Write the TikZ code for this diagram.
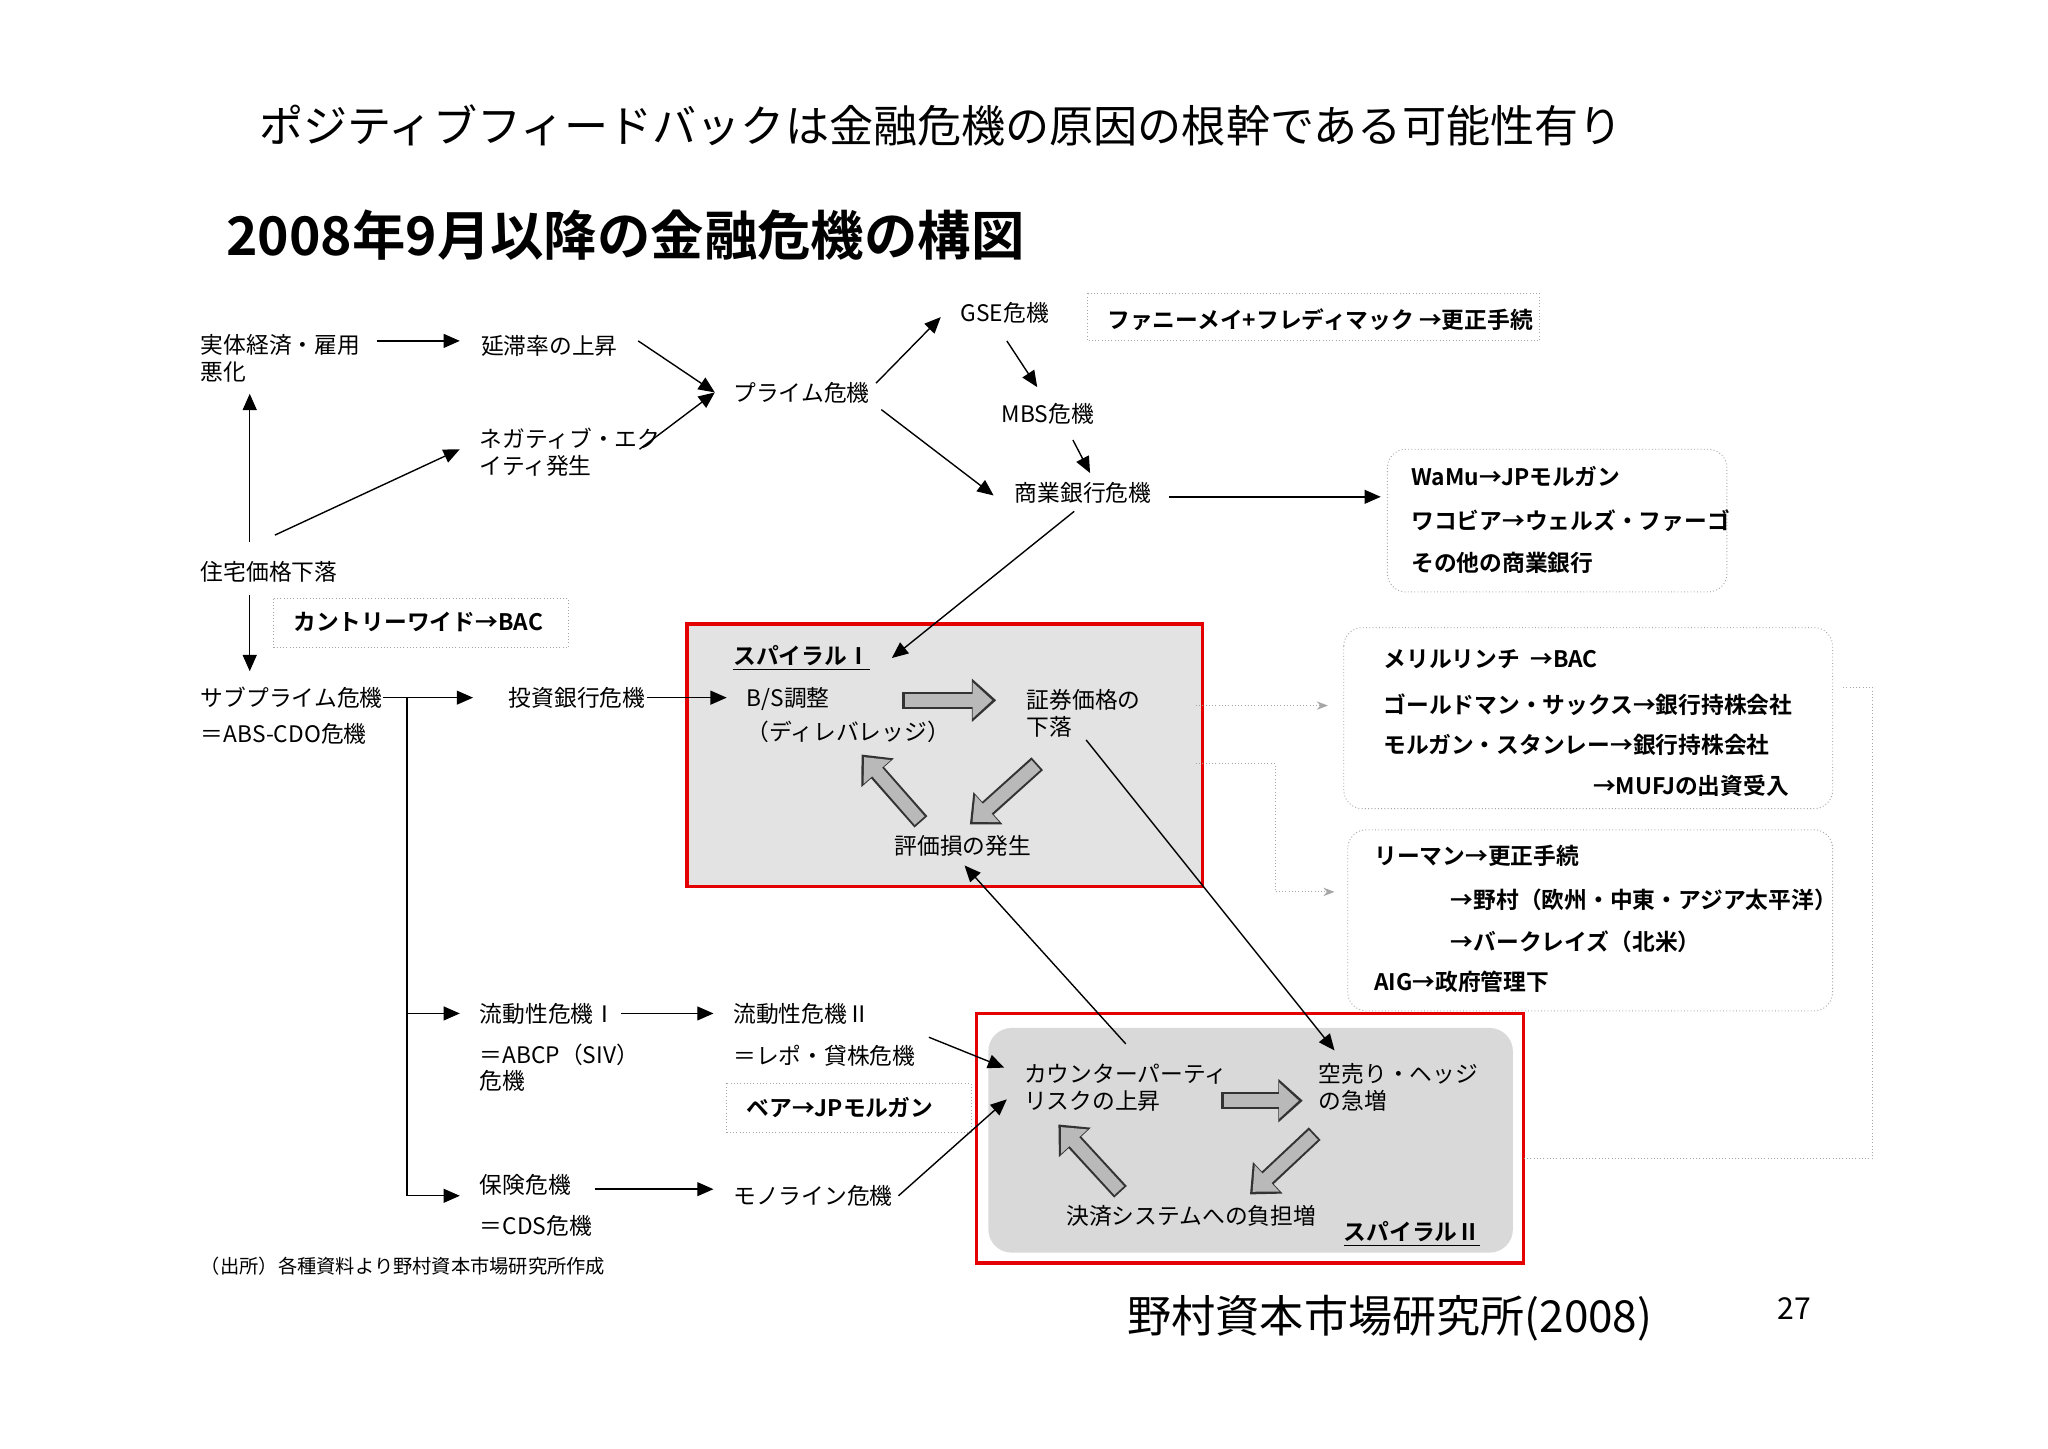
\documentclass[tikz,border=0pt]{standalone}
\usepackage{fontspec}
\setmainfont{Noto Sans CJK JP}
\newfontfamily\jpb{Noto Sans CJK JP Bold}
\usetikzlibrary{arrows.meta}
\begin{document}
\begin{tikzpicture}[x=0.02cm,y=-0.02cm,
 t/.style={font=\fontsize{9.8}{11.5}\selectfont,inner sep=1pt,anchor=west},
 tb/.style={font=\jpb\fontsize{9.8}{11.5}\selectfont,inner sep=1pt,anchor=west},
 ar/.style={-{Triangle[length=7pt,width=6pt]},line width=0.6pt},
 bigo/.style={line width=7.4pt,draw=black!80,-{Triangle[length=10.5pt,width=18pt]}},
 big/.style={line width=5.6pt,draw=gray!55,-{Triangle[length=8.5pt,width=15pt]}},
 dbox/.style={draw=gray!70,densely dotted,rounded corners=8pt},
 red/.style={draw=red!90!black,line width=1.6pt}]
\useasboundingbox (0,0) rectangle (1550,1096);
\fill[white] (0,0) rectangle (1550,1096);
\node[anchor=west,font=\fontsize{19}{22}\selectfont] (title) at (190,95) {ポジティブフィードバックは金融危機の原因の根幹である可能性有り};
\node[anchor=west,font=\jpb\fontsize{23}{26}\selectfont] (sub) at (165,178) {2008年9月以降の金融危機の構図};
\fill[gray!22] (520,472) rectangle (910,671);
\draw[red] (520,472) rectangle (910,671);
\fill[gray!30,rounded corners=10pt] (748,778) rectangle (1145,948);
\draw[red] (739,767) rectangle (1153,956);
\node[t,align=left] (jittai) at (150,271) {実体経済・雇用\\悪化};
\node[t] (entai) at (362,262) {延滞率の上昇};
\node[t,align=left] (nega) at (361,342) {ネガティブ・エク\\イティ発生};
\node[t] (prime) at (553,297) {プライム危機};
\node[t] (jutaku) at (150,433) {住宅価格下落};
\node[t,align=left] (sub1) at (150,542) {サブプライム危機\\[4pt]＝ABS-CDO危機};
\node[t] (toushi) at (383,528) {投資銀行危機};
\coordinate (pin) at (541,297);
\draw[ar] (285,258) -- (348,258);
\draw[ar] (483,258) -- (pin);
\draw[ar] (484,340) -- (pin);
\draw[ar] (208,405) -- (348,340);
\draw[ar] (189,410) -- (189,298);
\draw[ar] (189,450) -- (189,508);
\draw[dbox,rounded corners=0pt] (207,453) rectangle (430,490);
\node[tb] (country) at (220,471) {カントリーワイド→BAC};
\draw[ar] (290,528) -- (358,528);
\draw[line width=0.6pt] (308,528) -- (308,905);
\draw[ar] (308,767) -- (348,767);
\draw[ar] (308,905) -- (348,905);
\draw[ar] (490,528) -- (550,528);
\node[t] (gse) at (725,237) {GSE危機};
\draw[ar] (663,290) -- (712,240);
\draw[densely dotted,gray!70] (823,222) rectangle (1165,258);
\node[tb] (fannie) at (836,242) {ファニーメイ+フレディマック\ →更正手続};
\draw[ar] (762,258) -- (785,293);
\node[t] (mbs) at (756,313) {MBS危機};
\draw[ar] (812,333) -- (825,358);
\node[t] (shogyo) at (766,373) {商業銀行危機};
\draw[ar] (667,310) -- (752,375);
\draw[ar] (885,376) -- (1045,376);
\draw[dbox] (1050,340) rectangle (1307,448);
\node[tb] at (1066,361) {WaMu→JPモルガン};
\node[tb] at (1066,394) {ワコビア→ウェルズ・ファーゴ};
\node[tb] at (1066,426) {その他の商業銀行};
\draw[ar] (813,387) -- (675,498);
\node[tb] (sp1) at (553,498) {\underline{スパイラルⅠ}};
\node[t,align=left] (bs) at (563,541) {B/S調整\\[3pt]（ディレバレッジ）};
\node[t,align=left] (shoken) at (775,540) {証券価格の\\下落};
\node[t] (hyoka) at (675,640) {評価損の発生};
\draw[bigo] (683,530) -- (754,530); \draw[big] (685,530) -- (751,530);
\draw[bigo] (785,578) -- (734,624); \draw[big] (784,579) -- (736,622);
\draw[bigo] (697,622) -- (652,571); \draw[big] (696,621) -- (654,573);
\draw[densely dotted,gray!70,-{Stealth}] (905,534) -- (1005,534);
\draw[densely dotted,gray!70,-{Stealth}] (905,578) -- (965,578) -- (965,675) -- (1010,675);
\draw[dbox] (1017,475) rectangle (1387,612);
\node[tb] at (1045,499) {メリルリンチ\ \ →BAC};
\node[tb] at (1045,533) {ゴールドマン・サックス→銀行持株会社};
\node[tb] at (1045,564) {モルガン・スタンレー→銀行持株会社};
\node[tb,anchor=east] at (1356,595) {→MUFJの出資受入};
\draw[dbox] (1020,628) rectangle (1387,765);
\node[tb] at (1038,648) {リーマン→更正手続};
\node[tb] at (1096,681) {→野村（欧州・中東・アジア太平洋）};
\node[tb] at (1096,713) {→バークレイズ（北米）};
\node[tb] at (1038,743) {AIG→政府管理下};
\draw[densely dotted,gray!70] (1395,520) -- (1417,520) -- (1417,877) -- (1153,877);
\node[t] (ryu1) at (361,767) {流動性危機Ⅰ};
\node[t,align=left] (abcp) at (361,808) {＝ABCP（SIV）\\危機};
\draw[ar] (470,767) -- (540,767);
\node[t] (ryu2) at (553,767) {流動性危機Ⅱ};
\node[t] (repo) at (553,799) {＝レポ・貸株危機};
\draw[densely dotted,gray!70] (550,820) rectangle (735,857);
\node[tb] (bear) at (563,838) {ベア→JPモルガン};
\node[t] (hoken) at (361,897) {保険危機};
\node[t] (cds) at (361,928) {＝CDS危機};
\draw[ar] (450,900) -- (540,900);
\node[t] (mono) at (553,905) {モノライン危機};
\draw[ar] (703,785) -- (760,808);
\draw[ar] (680,905) -- (762,832);
\node[t,align=left] (counter) at (773,823) {カウンターパーティ\\リスクの上昇};
\node[t,align=left] (karauri) at (996,823) {空売り・ヘッジ\\の急増};
\node[t] (kessai) at (805,920) {決済システムへの負担増};
\node[tb] (sp2) at (1015,934) {\underline{スパイラルⅡ}};
\draw[bigo] (924,833) -- (986,833); \draw[big] (926,833) -- (983,833);
\draw[bigo] (995,858) -- (946,904); \draw[big] (994,859) -- (948,902);
\draw[bigo] (848,902) -- (801,851); \draw[big] (847,901) -- (803,853);
\draw[ar] (822,560) -- (1010,795);
\draw[ar] (852,790) -- (730,655);
\node[t,font=\fontsize{8.3}{10}\selectfont] (src) at (150,958) {（出所）各種資料より野村資本市場研究所作成};
\node[anchor=center,font=\fontsize{19}{22}\selectfont] (nomura) at (1052,998) {野村資本市場研究所(2008)};
\node[anchor=center,font=\fontsize{13}{15}\selectfont] (pg) at (1358,990) {27};
\end{tikzpicture}
\end{document}
